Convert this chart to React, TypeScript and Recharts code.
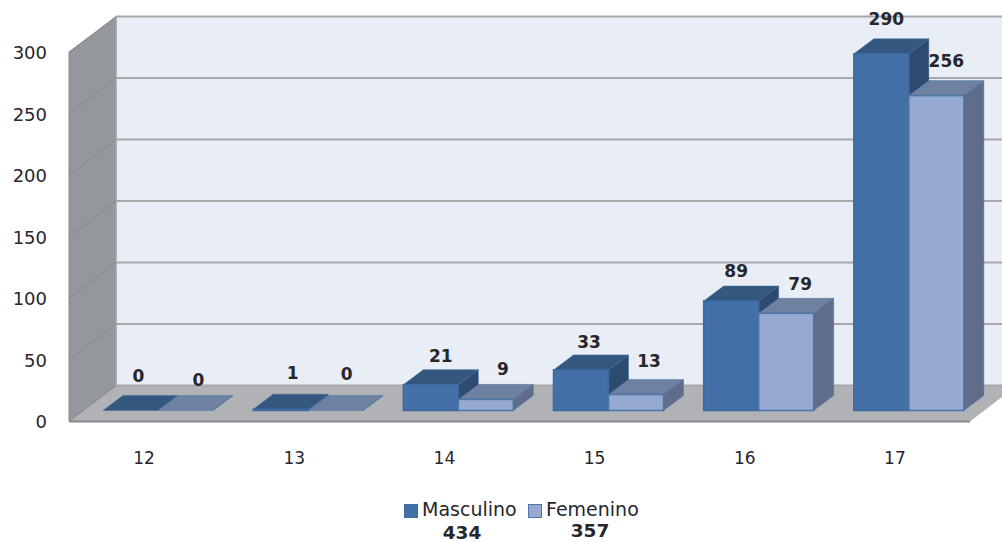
import React from "react";
import { BarChart, Bar, XAxis, YAxis, CartesianGrid, LabelList, Legend } from "recharts";

const categories = ["12", "13", "14", "15", "16", "17"];
const masculino = [0, 1, 21, 33, 89, 290];
const femenino = [0, 0, 9, 13, 79, 256];
const valueTicks = [0, 50, 100, 150, 200, 250, 300];
const legendNames = ["Masculino", "Femenino"];
const legendTotals = [434, 357];

const rows = categories.map((edad, i) => ({ edad, masculino: masculino[i], femenino: femenino[i] }));

const FONT = "'DejaVu Sans', sans-serif";
const INK = "#26262c";

// bars sit on the floor, a bit in from the front edge
const BAR_SHIFT_X = 14;
const DEPTH_X = 20;
const DEPTH_Y = 15;
// walls, relative to the value scale
const FRONT_Y = 11;
const BACK_Y = -25;
const LEFT = 69;
const BACK_LEFT = 116;
const RIGHT = 970;
const WIDTH = 1002;
const HEIGHT = 542;
const TOP = 41.5;
const FLOOR = 410.5;
const LEGEND_H = 47;

const masculinoColors = { front: "#4470a8", top: "#33577f", side: "#2d4a70", stroke: "#3d6aa0" };
const femeninoColors = { front: "#95a9d1", top: "#6f81a0", side: "#5f6d8b", stroke: "#4a76a8" };

// hand placed labels, offset from the top middle of each bar's front
const masculinoLabelDx = [8, 12, 10, 8, 5, 5];
const masculinoLabelDy = [-35, -36, -29, -28, -30, -35];
const femeninoLabelDx = [13, 11, 17, 13, 14, 10];
const femeninoLabelDy = [-31, -37, -30, -34, -29, -35];

const Box3D = (props: any) => {
  const { x, y, width, height, colors } = props;
  const l = x + BAR_SHIFT_X;
  const r = l + width;
  const b = y + height;
  return (
    <g>
      <polygon
        points={`${l},${y} ${l + DEPTH_X},${y - DEPTH_Y} ${r + DEPTH_X},${y - DEPTH_Y} ${r},${y}`}
        fill={colors.top}
        stroke={colors.stroke}
        strokeOpacity={0.5}
      />
      <polygon
        points={`${r},${y} ${r + DEPTH_X},${y - DEPTH_Y} ${r + DEPTH_X},${b - DEPTH_Y} ${r},${b}`}
        fill={colors.side}
        stroke={colors.stroke}
        strokeOpacity={0.5}
      />
      {height > 0 && <rect x={l} y={y} width={width} height={height} fill={colors.front} stroke={colors.stroke} strokeWidth={1.5} />}
    </g>
  );
};

const barLabel = (dx: number[], dy: number[]) => (props: any) => {
  const { x, y, width, value, index } = props;
  return (
    <text x={x + BAR_SHIFT_X + width / 2 + dx[index]} y={y + dy[index]} textAnchor="middle" dominantBaseline="central" fontFamily={FONT} fontSize={17} fontWeight="bold" fill={INK}>
      {value}
    </text>
  );
};

const GridLine = (props: any) => {
  const y = props.y1;
  return (
    <g stroke="#a8a8a8">
      <line x1={LEFT} y1={y + FRONT_Y} x2={BACK_LEFT} y2={y + BACK_Y} stroke="#85888c" />
      <line x1={BACK_LEFT} y1={y + BACK_Y} x2={WIDTH} y2={y + BACK_Y} strokeWidth={2} />
    </g>
  );
};

const ValueTick = (props: any) => (
  <text x={47} y={props.y + FRONT_Y} textAnchor="end" dominantBaseline="central" fontFamily={FONT} fontSize={18} fill={INK}>
    {props.payload.value}
  </text>
);

const AgeTick = (props: any) => (
  <text x={props.x} y={458} textAnchor="middle" dominantBaseline="central" fontFamily={FONT} fontSize={17} fill={INK}>
    {props.payload.value}
  </text>
);

const LegendBox = () => {
  const swatches = [masculinoColors, femeninoColors];
  const lefts = [404, 528];
  const totalCenters = [462, 590];
  const totalTops = [523, 521];
  return (
    <div style={{ position: "relative", width: WIDTH, height: LEGEND_H, fontFamily: FONT, color: INK }}>
      {legendNames.map((name, i) => (
        <React.Fragment key={name}>
          <div style={{ position: "absolute", left: lefts[i], top: 9, width: 12, height: 12, background: swatches[i].front, border: `1px solid ${swatches[i].stroke}` }} />
          <div style={{ position: "absolute", left: lefts[i] + 18, top: 4, fontSize: 19, lineHeight: "20px" }}>{name}</div>
          <div style={{ position: "absolute", left: totalCenters[i] - 40, width: 80, textAlign: "center", top: totalTops[i] - 495, fontSize: 18.5, lineHeight: "20px", fontWeight: "bold" }}>
            {legendTotals[i]}
          </div>
        </React.Fragment>
      ))}
    </div>
  );
};

const Walls = () => (
  <svg width={WIDTH} height={HEIGHT} style={{ position: "absolute", left: 0, top: 0 }}>
    <polygon points={`${BACK_LEFT},17 ${WIDTH},17 ${WIDTH},386 ${BACK_LEFT},386`} fill="#e9edf6" />
    <polygon points={`${LEFT},52 ${BACK_LEFT},17 ${BACK_LEFT},386 ${LEFT},421`} fill="#94979b" stroke="#8a8c90" />
    <polygon points={`${LEFT},421.5 ${BACK_LEFT},385.5 ${WIDTH},385.5 ${WIDTH},397 ${RIGHT},421.5`} fill="#b0b2b6" />
    <line x1={LEFT} y1={421.5} x2={RIGHT} y2={421.5} stroke="#85878a" strokeWidth={2} />
    <line x1={BACK_LEFT} y1={17} x2={BACK_LEFT} y2={386} stroke="#a8a8a8" strokeWidth={1.5} />
  </svg>
);

export default function App() {
  return (
    <div style={{ position: "absolute", left: 0, top: 0, width: WIDTH, height: HEIGHT, background: "#fff" }}>
      <Walls />
      <div style={{ position: "absolute", left: 0, top: 0 }}>
        <BarChart
          width={WIDTH}
          height={HEIGHT}
          data={rows}
          barSize={55}
          barGap={0}
          margin={{ top: TOP, right: WIDTH - RIGHT, bottom: 0, left: 0 }}
        >
          <CartesianGrid vertical={false} horizontal={GridLine as any} />
          <XAxis dataKey="edad" axisLine={false} tickLine={false} tick={AgeTick as any} interval={0} height={HEIGHT - FLOOR - LEGEND_H} />
          <YAxis domain={[0, 300]} ticks={valueTicks} axisLine={false} tickLine={false} tick={ValueTick as any} width={LEFT} />
          <Legend content={LegendBox as any} wrapperStyle={{ left: 0, top: 495, width: WIDTH }} />
          <Bar dataKey="masculino" name="Masculino" isAnimationActive={false} shape={(p: any) => <Box3D {...p} colors={masculinoColors} />}>
            <LabelList dataKey="masculino" content={barLabel(masculinoLabelDx, masculinoLabelDy) as any} />
          </Bar>
          <Bar dataKey="femenino" name="Femenino" isAnimationActive={false} shape={(p: any) => <Box3D {...p} colors={femeninoColors} />}>
            <LabelList dataKey="femenino" content={barLabel(femeninoLabelDx, femeninoLabelDy) as any} />
          </Bar>
        </BarChart>
      </div>
    </div>
  );
}
